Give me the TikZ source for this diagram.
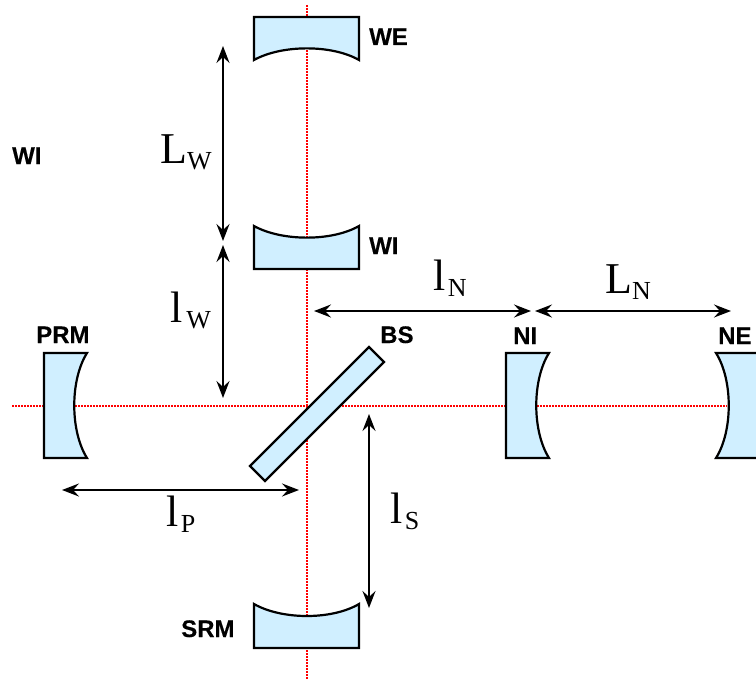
\documentclass[tikz,border=0pt]{standalone}
\usepackage{fontspec}
\setmainfont{Liberation Serif}
\newfontfamily\labelsans{Liberation Sans}[BoldFont={Liberation Sans Bold},BoldFeatures={FakeBold=0.25}]
\usetikzlibrary{arrows.meta}
\definecolor{glass}{RGB}{208,239,255}
\tikzset{
  beam/.style={red!100,line width=2bp,dash pattern=on 2bp off 1bp},
  mirror/.style={draw=black,fill=glass,line width=2.2bp,line join=miter},
  dim/.style={black,line width=2.2bp,{Stealth[length=17bp,width=13bp,inset=6bp]}-{Stealth[length=17bp,width=13bp,inset=6bp]}},
  tag/.style={font=\labelsans\bfseries\fontsize{24bp}{26bp}\selectfont,inner sep=0pt,anchor=base west},
  math/.style={font=\fontsize{44bp}{46bp}\selectfont,inner sep=0pt,anchor=base west},
}
\newcommand{\lensub}[2]{#1{\fontsize{26bp}{28bp}\selectfont\raisebox{-6.5bp}{#2}}}
\begin{document}
\begin{tikzpicture}[x=1bp,y=-1bp]
\useasboundingbox (0,0) rectangle (756,680);
% beams
\coordinate (hL) at (12,406); \coordinate (hR) at (727,406);
\coordinate (vT) at (307,5);  \coordinate (vB) at (307,680);
\draw[beam] (hL) -- (hR);
\draw[beam] (vT) -- (vB);
% mirrors
\path[mirror] (254,17) -- (359,17) -- (359,60) .. controls (332,44.5) and (282,44.5) .. (254,60) -- cycle;
\path[mirror] (254,269) -- (359,269) -- (359,226) .. controls (332,241.5) and (282,241.5) .. (254,226) -- cycle;
\path[mirror] (254,648) -- (359,648) -- (359,604) .. controls (332,620) and (282,620) .. (254,604) -- cycle;
\path[mirror] (44,353) -- (87,353) .. controls (70,380) and (70,431) .. (87,458) -- (44,458) -- cycle;
\path[mirror] (506,353) -- (549,353) .. controls (532,380) and (532,431) .. (549,458) -- (506,458) -- cycle;
\path[mirror] (760,353) -- (716,353) .. controls (733,380) and (733,431) .. (716,458) -- (760,458) -- cycle;
\path[mirror] (369,347) -- (384,362) -- (265,481) -- (250,466) -- cycle;
% dimension ends
\coordinate (LWa) at (223,46);  \coordinate (LWb) at (223,241);
\coordinate (lWa) at (223,245); \coordinate (lWb) at (223,398);
\coordinate (lNa) at (314,311); \coordinate (lNb) at (531,311);
\coordinate (LNa) at (535,311); \coordinate (LNb) at (731,311);
\coordinate (lPa) at (62,490);  \coordinate (lPb) at (299,490);
\coordinate (lSa) at (369,414); \coordinate (lSb) at (369,608);
\draw[dim] (LWa) -- (LWb);
\draw[dim] (lWa) -- (lWb);
\draw[dim] (lNa) -- (lNb);
\draw[dim] (LNa) -- (LNb);
\draw[dim] (lPa) -- (lPb);
\draw[dim] (lSa) -- (lSb);
% labels
\node[tag] (tWE) at (369,45) {WE};
\node[tag] (tWI) at (369,254) {WI};
\node[tag] (tWIb) at (12,164) {WI};
\node[tag] (tBS) at (380,343) {BS};
\node[tag] (tNI) at (513,344) {NI};
\node[tag] (tNE) at (718,344) {NE};
\node[tag] (tPRM) at (36,343) {PRM};
\node[tag] (tSRM) at (181,637) {SRM};
\node[math] (mLW) at (160,163) {\lensub{L}{W}};
\node[math] (mlW) at (170,322) {\lensub{l\kern4bp}{W}};
\node[math] (mlN) at (433,290) {\lensub{l\kern2.5bp}{N}};
\node[math] (mLN) at (605,293) {\lensub{L}{N}};
\node[math] (mlP) at (166,526) {\lensub{l\kern2.5bp}{P}};
\node[math] (mlS) at (390,523) {\lensub{l\kern2.5bp}{S}};
\end{tikzpicture}
\end{document}
